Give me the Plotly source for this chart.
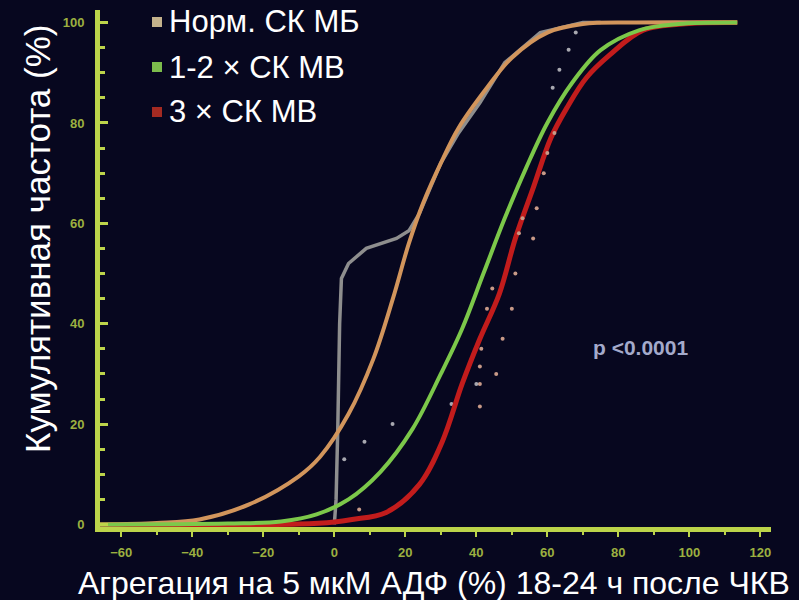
import plotly.graph_objects as go

# ---- data: cumulative frequency (%) vs ADP aggregation (%) ----
x_ticks = [-60, -40, -20, 0, 20, 40, 60, 80, 100, 120]
y_ticks = [0, 20, 40, 60, 80, 100]

# fitted curve, normal CK-MB
norm_x = [-66, -50, -38, -24, -10, -4, 4, 11, 16.5, 21, 25, 30, 35, 43, 50, 60, 70, 85, 113.5]
norm_y = [0, 0.3, 1, 4, 9.6, 13.5, 22, 33, 45, 56, 64, 72, 79, 87, 93, 98, 99.7, 100, 100]

# empirical curve, normal CK-MB
emp_x = [0, 0.5, 1, 1.5, 2, 4, 9, 17.5, 21, 24, 27, 30, 35, 41, 48, 58, 70, 75]
emp_y = [0, 5, 20, 40, 49, 52, 55, 57, 58.5, 62, 67, 72, 78, 84, 92, 98, 100, 100]

# fitted curve, 1-2 x ULN CK-MB
mid_x = [-66, -30, -15, -5, 4, 13, 22, 30, 36, 42, 48, 54, 60, 67, 75, 86, 97, 113.5]
mid_y = [0, 0.2, 0.6, 2, 5, 10.5, 19, 30, 39, 50, 61, 71, 80, 88, 94.5, 98.5, 99.7, 100]

# fitted curve, 3 x ULN CK-MB
high_x = [-66, -10, 0, 5, 14.6, 24, 30.4, 36, 41, 46.5, 51, 56, 61, 65.5, 71, 77.5, 87, 100, 113.5]
high_y = [0, 0.1, 0.5, 1, 2.4, 8, 16.5, 28, 37, 46, 57, 67, 77, 83, 89, 93.5, 98.5, 99.8, 100]

# individual observations
pts_a_x = [2.8, 8.5, 16.4, 33, 40, 61.5, 63.4, 66, 68]
pts_a_y = [13, 16.5, 20, 24, 28, 87, 90.6, 94.6, 98]
pts_b_x = [7, 41, 41, 41, 41.4, 43, 44.5, 45.6, 47.4, 50, 51, 52, 53, 56, 57, 59, 60, 62]
pts_b_y = [3, 23.5, 28, 31.5, 35, 43, 47, 30, 37, 43, 50, 58, 61, 57, 63, 70, 74, 78]

legend_labels = ["Норм. СК МБ", "1-2 × СК МВ", "3 × СК МВ"]
legend_colors = ["#c4b28c", "#7cbc4c", "#a42a22"]

x_title = "Агрегация на 5 мкМ АДФ (%) 18-24 ч после ЧКВ"
y_title = "Кумулятивная частота (%)"
p_text = "p <0.0001"

# ---- layout geometry (pixels) ----
W, H = 799, 600
ML, MR, MT, MB = 100, 28, 10, 73
PW, PH = W - ML - MR, H - MT - MB


def px(x):
    return (x - ML) / PW


def py(y):
    return (H - MB - y) / PH


BG = "#07071f"
AXIS = "#bcd44a"
FONT = "Liberation Sans, Arial"
TICKFONT = dict(family=FONT, size=13, color="#9cb040", weight="bold")

fig = go.Figure()

fig.add_trace(go.Scatter(x=emp_x, y=emp_y, mode="lines",
                         line=dict(color="#8e8e8e", width=3.5), hoverinfo="skip"))
fig.add_trace(go.Scatter(x=pts_a_x, y=pts_a_y, mode="markers",
                         marker=dict(color="#a8a8b0", size=4), hoverinfo="skip"))
fig.add_trace(go.Scatter(x=high_x, y=high_y, mode="lines", line_shape="spline",
                         line=dict(color="#c21c1c", width=5), hoverinfo="skip"))
fig.add_trace(go.Scatter(x=pts_b_x, y=pts_b_y, mode="markers",
                         marker=dict(color="#c89a88", size=4), hoverinfo="skip"))
fig.add_trace(go.Scatter(x=norm_x, y=norm_y, mode="lines", line_shape="spline",
                         line=dict(color="#d2955c", width=4), hoverinfo="skip"))
fig.add_trace(go.Scatter(x=mid_x, y=mid_y, mode="lines", line_shape="spline",
                         line=dict(color="#7cc84a", width=4), hoverinfo="skip"))

annotations = [
    dict(text=x_title, x=px(434), y=py(583), xref="paper", yref="paper",
         showarrow=False, font=dict(family=FONT, size=32, color="white"),
         xanchor="center", yanchor="middle"),
    dict(text=y_title, x=px(37), y=py(239), xref="paper", yref="paper",
         showarrow=False, textangle=-90,
         font=dict(family=FONT, size=35, color="white"),
         xanchor="center", yanchor="middle"),
    dict(text=p_text, x=px(640), y=py(348), xref="paper", yref="paper",
         showarrow=False, font=dict(family=FONT, size=21, color="#a4aacb", weight="bold"),
         xanchor="center", yanchor="middle"),
]
shapes = []
for i, (lab, col) in enumerate(zip(legend_labels, legend_colors)):
    cy = 22 + 45 * i
    annotations.append(dict(text=lab, x=px(167), y=py(cy), xref="paper", yref="paper",
                            showarrow=False, xanchor="left", yanchor="middle",
                            font=dict(family=FONT, size=31, color="white")))
    shapes.append(dict(type="rect", xref="paper", yref="paper",
                       x0=px(152), x1=px(162), y0=py(cy + 5), y1=py(cy - 5),
                       fillcolor=col, line=dict(width=0)))

fig.update_layout(
    width=W, height=H,
    margin=dict(l=ML, r=MR, t=MT, b=MB, pad=0),
    paper_bgcolor=BG, plot_bgcolor=BG,
    showlegend=False,
    annotations=annotations,
    shapes=shapes,
    xaxis=dict(range=[-66, 123], tickvals=x_ticks, showgrid=False, zeroline=False,
               showline=True, linecolor=AXIS, linewidth=5,
               ticks="outside", ticklen=5, tickwidth=2, tickcolor=AXIS,
               minor=dict(dtick=10, ticks="outside", ticklen=3, tickcolor=AXIS),
               tickfont=TICKFONT, ticklabelstandoff=4),
    yaxis=dict(range=[-0.5, 102.5], tickvals=y_ticks, showgrid=False, zeroline=False,
               showline=True, linecolor=AXIS, linewidth=5,
               ticks="inside", ticklen=8, tickwidth=3, tickcolor=AXIS,
               minor=dict(dtick=5, ticks="inside", ticklen=5, tickcolor=AXIS),
               tickfont=TICKFONT, ticklabelstandoff=8),
)

fig.write_html("out.html")
